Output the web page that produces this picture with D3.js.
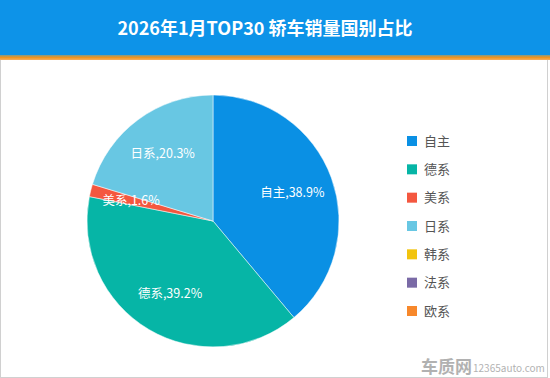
<!DOCTYPE html>
<html><head><meta charset="utf-8">
<script src="https://cdn.jsdelivr.net/npm/d3@7"></script>
<style>html,body{margin:0;padding:0;background:#fff;}svg{display:block;}</style>
</head><body>
<script>
const titleText = "2026年1月TOP30 轿车销量国别占比";
const categories = ["自主","德系","美系","日系","韩系","法系","欧系"];
const shares = [38.9, 39.2, 1.6, 20.3, 0, 0, 0];
const colors = ["#0a90e4","#06b5a6","#f4573f","#68c7e3","#f2c40e","#7a6aa6","#f7882b"];

const W = 550, H = 378;
const svg = d3.select("body").append("svg").attr("width", W).attr("height", H);
const font = "'Noto Sans CJK SC','Microsoft YaHei',sans-serif";

svg.append("rect").attr("x",0.5).attr("y",0.5).attr("width",W-3).attr("height",H-1)
  .attr("fill","#fff").attr("stroke","#d0d0d0");
svg.append("rect").attr("x",0).attr("y",0).attr("width",W).attr("height",56).attr("fill","#0d93e8");
const grad = svg.append("defs").append("linearGradient").attr("id","og").attr("x1",0).attr("x2",0).attr("y1",0).attr("y2",1);
grad.append("stop").attr("offset","0%").attr("stop-color","#7f9a8a");
grad.append("stop").attr("offset","50%").attr("stop-color","#f0941e");
grad.append("stop").attr("offset","100%").attr("stop-color","#f5b060");
svg.append("rect").attr("x",0).attr("y",55).attr("width",W).attr("height",5).attr("fill","url(#og)");
svg.append("text").attr("x",265).attr("y",35).attr("text-anchor","middle")
  .attr("font-family",font).attr("font-weight","bold").attr("font-size",18).attr("fill","#fff")
  .text(titleText);

const cx = 213, cy = 221, r = 126;
const data = categories.map((c,i)=>({name:c, value:shares[i], color:colors[i]}));
const pie = d3.pie().sort(null).value(d=>d.value);
const arcs = pie(data).filter(d=>d.data.value>0);
const arc = d3.arc().innerRadius(0).outerRadius(r);
const labelArc = d3.arc().innerRadius(r*0.67).outerRadius(r*0.67);
const g = svg.append("g").attr("transform",`translate(${cx},${cy})`);
g.selectAll("path").data(arcs).join("path").attr("d",arc).attr("fill",d=>d.data.color)
  .attr("stroke","#fff").attr("stroke-width",0.5);
g.selectAll("text").data(arcs).join("text")
  .attr("transform",d=>`translate(${labelArc.centroid(d)})`)
  .attr("text-anchor","middle").attr("dy","0.35em")
  .attr("font-family",font).attr("font-size",12.5).attr("fill","#fff")
  .text(d=>`${d.data.name},${d.data.value.toFixed(1)}%`);

const leg = svg.append("g");
const ly = d3.scalePoint().domain(categories).range([141,311]);
categories.forEach((c,i)=>{
  leg.append("rect").attr("x",407).attr("y",ly(c)-5).attr("width",10).attr("height",10).attr("fill",colors[i]);
  leg.append("text").attr("x",424).attr("y",ly(c)).attr("dy","0.35em")
    .attr("font-family",font).attr("font-size",13).attr("fill","#555").text(c);
});

const wm = svg.append("g").attr("opacity",0.5);
wm.append("text").attr("x",421).attr("y",373).attr("font-family",font).attr("font-weight","bold")
  .attr("font-size",17).attr("fill","#666").text("车质网");
wm.append("text").attr("x",473).attr("y",372).attr("font-family",font)
  .attr("font-size",10).attr("fill","#666").text("12365auto.com");
</script>
</body></html>
